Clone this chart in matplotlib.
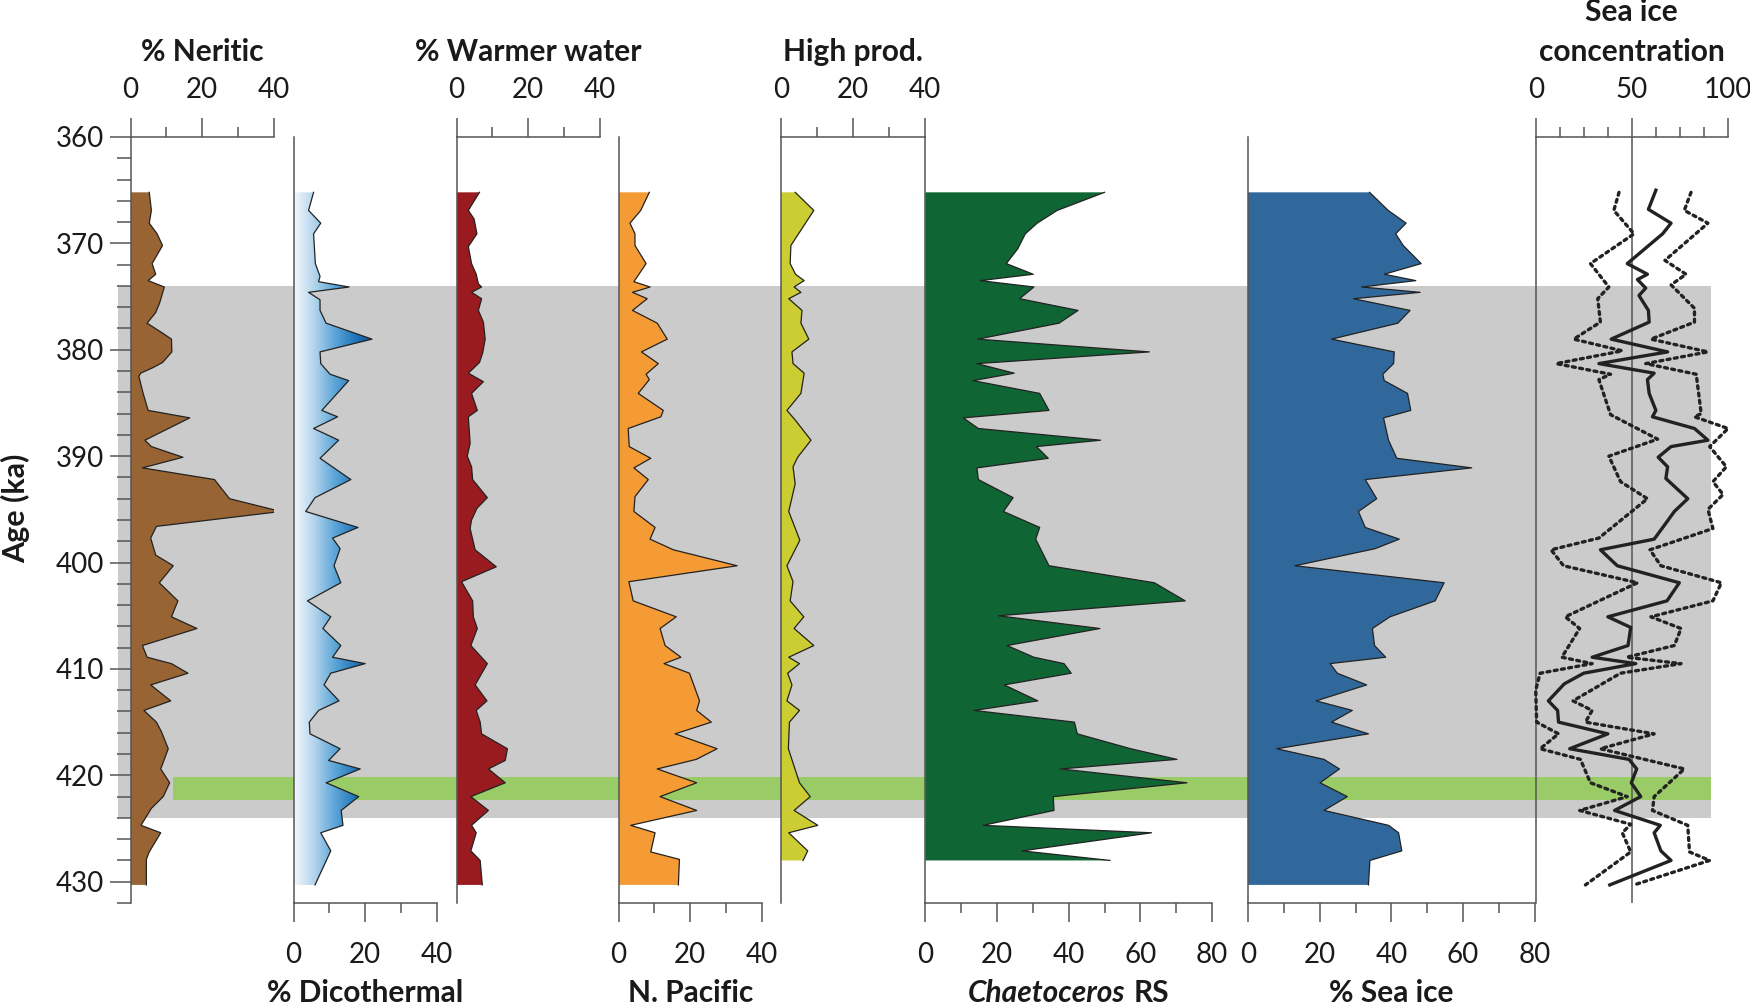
import matplotlib

matplotlib.use("Agg")
import matplotlib.pyplot as plt
import matplotlib.ticker as mtick
import numpy as np
from matplotlib.colors import LinearSegmentedColormap
from matplotlib.offsetbox import AnnotationBbox, HPacker, TextArea

# ---------------------------------------------------------------- data (ka, %)
NERITIC_AGE = [365.2, 366.9, 368.1, 369.1, 370.2, 371.9, 372.9, 373.5, 374.1, 375.6, 376.5, 377.5,
               378.3, 379.0, 380.2, 381.2, 381.7, 382.2, 382.5, 384.1, 385.7, 386.4, 388.5, 389.1,
               390.1, 391.1, 392.2, 394.0, 395.2, 396.6, 397.7, 399.3, 400.3, 401.9, 403.6, 405.1,
               406.2, 407.8, 408.9, 409.5, 410.4, 411.5, 413.0, 413.9, 415.0, 415.9, 417.5, 419.4,
               420.7, 422.0, 423.1, 424.7, 425.4, 427.2, 427.9, 430.3]
NERITIC = [5.2, 5.8, 5.2, 7.4, 8.9, 6.0, 7.0, 4.9, 9.4, 8.1, 7.0, 4.6,
           8.3, 11.4, 11.5, 8.9, 6.1, 2.8, 2.3, 3.5, 4.9, 16.5, 4.0, 5.8,
           14.6, 3.3, 23.4, 27.6, 41.9, 7.2, 5.6, 7.0, 11.9, 8.0, 13.2, 11.4,
           18.5, 3.3, 4.6, 11.4, 16.0, 5.6, 11.2, 3.7, 7.2, 8.6, 10.5, 8.4,
           10.9, 9.1, 5.8, 2.9, 8.4, 5.2, 4.4, 4.4]

DICO_AGE = [365.2, 366.9, 368.1, 369.1, 371.9, 373.1, 373.6, 374.1, 374.6, 375.3, 376.3, 377.5,
            379.0, 380.2, 381.3, 382.3, 382.9, 385.7, 386.3, 387.4, 388.5, 390.2, 392.2, 393.9,
            395.2, 396.7, 397.7, 398.7, 400.3, 401.9, 403.6, 405.1, 406.2, 407.8, 408.9, 409.5,
            410.4, 411.5, 413.0, 413.9, 415.0, 416.1, 417.5, 418.6, 419.4, 420.7, 422.0, 423.3,
            424.7, 425.4, 427.1, 430.3]
DICOTHERMAL = [5.6, 4.2, 7.6, 5.6, 6.1, 7.4, 7.0, 15.5, 4.2, 7.4, 7.4, 9.1,
               21.9, 7.4, 7.6, 10.2, 15.4, 7.9, 12.3, 5.6, 12.6, 7.4, 16.0, 6.0,
               3.4, 18.0, 10.9, 13.0, 11.3, 13.2, 3.9, 10.4, 8.2, 13.2, 10.9, 20.0,
               10.4, 8.5, 12.7, 7.0, 4.4, 4.6, 13.0, 9.8, 18.6, 9.1, 18.2, 13.3,
               13.8, 7.6, 10.4, 6.0]

WARM_AGE = [365.2, 366.9, 367.7, 369.1, 370.3, 371.9, 372.9, 373.8, 374.1, 374.6, 375.2, 376.3,
            377.4, 379.0, 380.3, 381.2, 382.2, 383.0, 384.1, 385.7, 386.3, 388.8, 390.0, 391.0,
            392.2, 393.9, 394.9, 396.0, 396.8, 398.8, 400.4, 401.8, 403.6, 405.1, 406.2, 407.8,
            409.5, 411.5, 413.0, 413.9, 415.0, 416.1, 417.5, 418.6, 419.4, 420.7, 422.0, 423.3,
            424.7, 425.4, 427.1, 428.0, 430.3]
WARMER = [6.4, 3.3, 4.9, 5.7, 3.3, 4.2, 5.5, 6.1, 7.0, 4.2, 7.0, 6.1,
          7.5, 8.0, 7.3, 6.4, 3.3, 7.5, 4.2, 5.8, 3.3, 3.8, 3.0, 4.2,
          4.5, 8.6, 5.7, 4.2, 3.8, 5.2, 11.1, 1.4, 4.5, 4.7, 5.8, 4.0,
          8.6, 5.2, 8.5, 5.5, 6.6, 7.0, 14.2, 13.6, 8.9, 13.6, 4.0, 8.9,
          4.2, 5.5, 4.0, 6.6, 7.2]

NPAC_AGE = [365.2, 366.9, 368.1, 369.1, 370.2, 371.9, 373.6, 374.1, 374.6, 375.2, 376.3, 377.5,
            379.0, 380.2, 381.3, 382.3, 382.8, 384.1, 385.7, 386.3, 387.4, 389.1, 390.2, 391.1,
            392.2, 393.8, 395.2, 396.7, 397.8, 398.8, 400.3, 401.8, 403.6, 405.1, 406.2, 407.8,
            408.9, 409.5, 410.4, 413.0, 413.9, 415.0, 416.1, 417.5, 418.5, 419.4, 420.7, 422.0,
            423.3, 424.7, 425.4, 427.2, 427.9, 430.3]
N_PACIFIC = [8.6, 6.2, 3.2, 4.6, 4.6, 7.7, 4.3, 8.8, 3.9, 8.0, 3.9, 10.8,
             13.6, 6.4, 11.1, 7.7, 8.6, 5.5, 12.5, 11.8, 2.7, 3.0, 9.0, 4.3,
             8.3, 4.6, 4.3, 10.2, 8.8, 15.3, 33.1, 2.9, 4.1, 16.1, 11.6, 13.0,
             17.4, 12.7, 19.8, 22.6, 21.8, 25.9, 15.8, 27.5, 21.7, 10.8, 21.8, 11.6,
             21.8, 3.4, 10.2, 9.0, 17.0, 16.7]

HIGH_AGE = [365.2, 366.9, 370.2, 371.9, 372.9, 373.5, 374.1, 374.6, 375.2, 376.3, 377.5, 379.0,
            380.2, 381.3, 382.2, 384.1, 385.7, 386.6, 388.5, 390.1, 391.0, 392.6, 395.2, 397.9,
            400.3, 401.8, 403.6, 405.1, 406.2, 407.8, 408.9, 409.5, 410.4, 411.5, 413.0, 413.9,
            415.0, 417.5, 420.7, 422.0, 423.3, 424.7, 425.4, 427.1, 428.0]
HIGH_PROD = [3.9, 9.1, 2.7, 2.5, 4.0, 6.4, 3.6, 5.5, 2.1, 5.8, 5.5, 7.7,
             3.0, 3.3, 6.4, 5.5, 1.6, 3.9, 8.3, 4.6, 3.3, 3.9, 2.1, 5.2,
             1.6, 3.3, 2.5, 6.3, 3.6, 9.1, 2.1, 5.1, 1.8, 3.0, 1.6, 5.1,
             2.3, 2.0, 5.1, 8.1, 3.6, 10.2, 2.1, 7.4, 6.1]

CHAET_AGE = [365.2, 366.9, 368.1, 369.1, 370.5, 371.9, 372.9, 373.5, 374.1, 375.2, 376.3, 377.5,
             379.0, 380.2, 381.3, 382.2, 382.9, 384.1, 385.7, 386.4, 387.4, 388.5, 389.1, 390.2,
             391.1, 392.2, 393.9, 395.2, 396.7, 397.8, 400.3, 401.9, 403.6, 405.0, 406.2, 407.8,
             408.9, 409.5, 410.4, 411.5, 413.0, 413.9, 415.0, 416.1, 417.5, 418.5, 419.4, 420.7,
             422.0, 423.3, 424.7, 425.4, 427.1, 428.0]
CHAETOCEROS = [50.0, 36.8, 31.2, 27.9, 25.8, 22.6, 30.1, 15.3, 30.3, 26.3, 42.6, 37.3,
               14.6, 62.5, 14.4, 24.8, 13.3, 31.9, 34.5, 10.6, 14.8, 48.9, 31.0, 34.3,
               14.4, 14.8, 24.5, 21.8, 31.9, 30.8, 34.5, 63.9, 72.5, 20.4, 48.7, 22.8,
               30.3, 38.7, 40.7, 22.0, 31.4, 13.6, 41.6, 42.4, 57.3, 70.2, 37.7, 73.0,
               35.7, 35.9, 16.1, 63.1, 27.0, 51.5]

ICE_AGE = [365.2, 366.9, 368.1, 369.1, 370.2, 371.9, 372.9, 373.5, 374.1, 374.6, 375.2, 376.3,
           377.5, 379.0, 380.2, 381.3, 382.3, 382.9, 384.1, 385.7, 386.4, 388.5, 390.2, 391.1,
           392.2, 394.0, 395.2, 396.7, 397.8, 398.7, 400.3, 401.9, 403.6, 405.1, 406.2, 407.8,
           408.9, 409.5, 410.4, 411.5, 413.0, 413.9, 415.0, 416.1, 417.5, 418.5, 419.4, 420.7,
           422.0, 423.3, 424.7, 425.4, 427.1, 428.0, 430.3]
SEA_ICE = [33.9, 39.1, 44.1, 41.2, 43.3, 48.3, 38.0, 46.8, 31.7, 48.0, 29.4, 45.2,
           41.8, 23.3, 40.8, 40.6, 37.6, 38.0, 44.5, 45.4, 37.8, 39.2, 41.5, 62.4,
           32.7, 35.9, 30.8, 32.7, 42.2, 35.4, 13.1, 54.7, 52.2, 39.6, 34.7, 35.3,
           38.4, 22.9, 24.9, 33.1, 19.0, 29.1, 23.3, 33.6, 8.0, 21.2, 25.5, 20.1,
           27.7, 21.2, 39.2, 42.0, 42.9, 34.0, 33.6]

SIC_AGE = [365.0, 366.8, 368.1, 369.1, 371.9, 372.9, 373.4, 374.2, 374.9, 376.3, 377.4, 379.0,
           380.2, 381.3, 382.2, 382.8, 384.1, 385.7, 386.3, 387.4, 388.5, 389.1, 390.1, 391.0,
           392.1, 394.0, 395.2, 396.3, 397.8, 398.8, 400.3, 401.9, 403.6, 405.1, 406.1, 407.8,
           408.9, 409.5, 410.4, 411.4, 413.0, 413.9, 415.0, 416.1, 417.5, 418.5, 419.4, 420.7,
           422.0, 423.3, 424.7, 425.4, 427.1, 428.0, 430.3]
SIC_MEAN = [62.6, 58.7, 70.5, 66.1, 47.7, 58.2, 53.0, 57.3, 53.8, 58.7, 59.1, 39.3,
            68.7, 32.9, 61.7, 58.2, 59.1, 62.6, 60.8, 82.7, 89.7, 70.5, 63.8, 68.7,
            67.8, 79.2, 72.2, 67.8, 61.7, 33.7, 42.5, 74.8, 68.4, 37.6, 49.5, 48.1,
            29.4, 52.1, 25.0, 14.9, 6.6, 11.4, 11.9, 37.6, 17.7, 48.6, 52.6, 49.8,
            54.7, 41.1, 64.9, 61.7, 65.2, 70.5, 38.6]

SIC_LOW_AGE = [365.2, 366.9, 369.1, 371.9, 374.1, 375.2, 377.4, 379.0, 380.1, 381.3, 382.3, 382.8,
               386.1, 388.4, 390.0, 392.4, 394.0, 397.7, 398.8, 400.3, 401.9, 405.1, 406.2, 408.9,
               409.5, 410.4, 412.0, 415.0, 416.1, 417.5, 418.5, 420.7, 422.0, 423.3, 424.6, 425.4,
               427.2, 430.3]
SIC_LOW = [43.4, 40.7, 51.2, 28.5, 38.1, 32.3, 33.7, 19.8, 45.1, 10.7, 39.0, 32.9,
           39.0, 63.5, 38.1, 44.2, 58.2, 32.9, 8.0, 14.5, 53.0, 15.4, 22.9, 13.6,
           29.4, 2.3, 0.0, 0.5, 11.9, 2.3, 23.3, 28.5, 47.7, 22.9, 49.5, 45.1,
           49.5, 25.9]

SIC_HIGH_AGE = [365.2, 366.9, 368.1, 371.6, 372.9, 373.9, 376.1, 377.4, 379.0, 380.2, 381.3, 382.3,
                386.0, 386.3, 387.4, 389.1, 391.0, 392.4, 393.6, 395.0, 396.8, 398.8, 400.3, 401.9,
                403.6, 405.1, 406.2, 407.8, 408.9, 409.5, 410.4, 413.0, 413.9, 415.0, 416.1, 417.5,
                419.4, 422.0, 423.3, 424.7, 427.2, 428.0, 430.3]
SIC_HIGH = [80.9, 77.4, 89.7, 67.3, 78.3, 70.5, 82.7, 82.7, 60.0, 89.7, 57.3, 83.6,
            86.2, 82.7, 100.2, 90.6, 99.3, 92.3, 97.6, 89.7, 92.3, 59.5, 65.2, 96.7,
            92.3, 60.0, 75.7, 72.2, 47.4, 75.7, 44.2, 19.4, 29.4, 25.9, 61.7, 33.7,
            77.4, 61.7, 60.8, 79.2, 80.1, 90.6, 51.2]

GLACIAL_BAND = (374.0, 424.0)
EVENT_BAND = (420.2, 422.3)
AGE_TOP, AGE_BOTTOM = 360, 432

# ---------------------------------------------------------------- style
W, H = 1750, 1007
Y_TOP_PX, Y_BOTTOM_PX = 137, 903
PX_PER_UNIT = 3.585

INK = "#1a1a1a"
SPINE = "#555555"
BROWN = "#986434"
DARKRED = "#991b1f"
ORANGE = "#f59b36"
OLIVE = "#cccc33"
DGREEN = "#106535"
SEA_BLUE = "#31689c"
GRAY_BAND = "#cbcbcb"
GREEN_BAND = "#99cc66"
FAMILY = ["Lato", "DejaVu Sans"]
TITLE_SIZE = 21.5

plt.rcParams.update({
    "font.family": FAMILY,
    "font.size": 20,
    "text.color": INK,
    "xtick.color": INK,
    "ytick.color": INK,
    "axes.edgecolor": SPINE,
    "axes.linewidth": 1.1,
})


def add_panel(fig, x0_px, xmax, side, width_px=None):
    if width_px is None:
        width_px = xmax * PX_PER_UNIT
    ax = fig.add_axes([x0_px / W, 1 - Y_BOTTOM_PX / H, width_px / W, (Y_BOTTOM_PX - Y_TOP_PX) / H])
    ax.set_facecolor("none")
    ax.set_xlim(0, xmax)
    ax.set_ylim(AGE_BOTTOM, AGE_TOP)
    ax.spines["right"].set_visible(False)
    ax.spines["top"].set_visible(side == "top")
    ax.spines["bottom"].set_visible(side == "bottom")
    ax.set_yticks([])
    if side == "top":
        ax.tick_params(axis="x", which="both", top=True, bottom=False, labeltop=True, labelbottom=False)
    else:
        ax.tick_params(axis="x", which="both", top=False, bottom=True, labeltop=False, labelbottom=True)
    ax.tick_params(axis="x", which="major", direction="out", length=14, width=1.1, color=SPINE,
                   pad=10.5 if side == "top" else 14, labelsize=20)
    ax.tick_params(axis="x", which="minor", direction="out", length=7.5, width=1.1, color=SPINE)
    return ax


def set_title(ax, text, side):
    y = 1.111 if side == "top" else -0.118
    ax.text(0.5, y, text, transform=ax.transAxes, ha="center", va="center",
            fontsize=TITLE_SIZE, fontweight="bold")


def area(ax, age, values, color):
    ax.fill_betweenx(age, 0, values, facecolor=color, edgecolor="none", zorder=2)
    ax.plot(values, age, color="#222222", linewidth=0.9, zorder=3)


def main():
    fig = plt.figure(figsize=(W / 100, H / 100), dpi=100)

    # shaded intervals behind all panels
    gray_left, gray_right, green_left = 118, 1711, 173
    bg = fig.add_axes([gray_left / W, 1 - Y_BOTTOM_PX / H, (gray_right - gray_left) / W,
                       (Y_BOTTOM_PX - Y_TOP_PX) / H])
    bg.set_xlim(0, 1)
    bg.set_ylim(AGE_BOTTOM, AGE_TOP)
    bg.axis("off")
    bg.axhspan(*GLACIAL_BAND, color=GRAY_BAND, linewidth=0)
    bg.axhspan(*EVENT_BAND, xmin=(green_left - gray_left) / (gray_right - gray_left),
               color=GREEN_BAND, linewidth=0)

    # % Neritic (carries the age axis)
    ax = add_panel(fig, 130.6, 40, "top")
    area(ax, NERITIC_AGE, NERITIC, BROWN)
    ax.xaxis.set_major_locator(mtick.MultipleLocator(20))
    ax.xaxis.set_minor_locator(mtick.MultipleLocator(10))
    ax.set_yticks(np.arange(360, 431, 10))
    ax.set_yticks(np.arange(360, 433, 2), minor=True)
    ax.tick_params(axis="y", which="major", direction="out", length=15, width=1.1, color=SPINE,
                   labelsize=20, pad=4)
    ax.tick_params(axis="y", which="minor", direction="out", length=10, width=1.1, color=SPINE)
    set_title(ax, "% Neritic", "top")
    fig.text(16 / W, 1 - 508 / H, "Age (ka)", rotation=90, ha="center", va="center",
             fontsize=22, fontweight="bold")

    # % Dicothermal with horizontal blue gradient
    ax = add_panel(fig, 293.5, 40, "bottom")
    ax.xaxis.set_major_locator(mtick.MultipleLocator(20))
    ax.xaxis.set_minor_locator(mtick.MultipleLocator(10))
    poly = ax.fill_betweenx(DICO_AGE, 0, DICOTHERMAL, facecolor="none", edgecolor="none")
    cmap = LinearSegmentedColormap.from_list(
        "dico", ["#f3f8fd", "#b3d4ec", "#5ea6d8", "#2377bb", "#084b94"])
    img = ax.imshow(np.linspace(0, 1, 256)[None, :], extent=(0, 22.5, AGE_BOTTOM, AGE_TOP),
                    aspect="auto", cmap=cmap, zorder=2, interpolation="bilinear")
    img.set_clip_path(poly.get_paths()[0], transform=ax.transData)
    ax.plot(DICOTHERMAL, DICO_AGE, color="#222222", linewidth=0.9, zorder=3)
    ax.set_xlim(0, 40)
    ax.set_ylim(AGE_BOTTOM, AGE_TOP)
    set_title(ax, "% Dicothermal", "bottom")

    # % Warmer water
    ax = add_panel(fig, 456.5, 40, "top")
    area(ax, WARM_AGE, WARMER, DARKRED)
    ax.xaxis.set_major_locator(mtick.MultipleLocator(20))
    ax.xaxis.set_minor_locator(mtick.MultipleLocator(10))
    set_title(ax, "% Warmer water", "top")

    # N. Pacific
    ax = add_panel(fig, 618.5, 40, "bottom")
    area(ax, NPAC_AGE, N_PACIFIC, ORANGE)
    ax.xaxis.set_major_locator(mtick.MultipleLocator(20))
    ax.xaxis.set_minor_locator(mtick.MultipleLocator(10))
    set_title(ax, "N. Pacific", "bottom")

    # High prod.
    ax = add_panel(fig, 781.2, 40, "top")
    area(ax, HIGH_AGE, HIGH_PROD, OLIVE)
    ax.xaxis.set_major_locator(mtick.MultipleLocator(20))
    ax.xaxis.set_minor_locator(mtick.MultipleLocator(10))
    set_title(ax, "High prod.", "top")

    # Chaetoceros RS
    ax = add_panel(fig, 925.3, 80, "bottom")
    area(ax, CHAET_AGE, CHAETOCEROS, DGREEN)
    ax.xaxis.set_major_locator(mtick.MultipleLocator(20))
    ax.xaxis.set_minor_locator(mtick.MultipleLocator(10))
    label = HPacker(children=[
        TextArea("Chaetoceros", textprops=dict(fontsize=TITLE_SIZE, fontweight="bold",
                                               fontstyle="italic", family=FAMILY)),
        TextArea("RS", textprops=dict(fontsize=TITLE_SIZE, fontweight="bold", family=FAMILY)),
    ], pad=0, sep=6, align="baseline")
    ax.add_artist(AnnotationBbox(label, (0.5, -0.118), xycoords="axes fraction",
                                 box_alignment=(0.5, 0.5), frameon=False, pad=0))

    # % Sea ice
    ax = add_panel(fig, 1248.0, 80, "bottom")
    area(ax, ICE_AGE, SEA_ICE, SEA_BLUE)
    ax.xaxis.set_major_locator(mtick.MultipleLocator(20))
    ax.xaxis.set_minor_locator(mtick.MultipleLocator(10))
    set_title(ax, "% Sea ice", "bottom")

    # Sea ice concentration
    ax = add_panel(fig, 1535.7, 100, "top", width_px=192)
    ax.xaxis.set_major_locator(mtick.MultipleLocator(50))
    ax.xaxis.set_minor_locator(mtick.MultipleLocator(12.5))
    ax.axvline(50, color=SPINE, linewidth=1.1, zorder=1)
    ax.plot(SIC_LOW, SIC_LOW_AGE, color="#222222", linewidth=2.4, linestyle=(0, (0.9, 1.3)),
            dash_capstyle="round", clip_on=False, zorder=3)
    ax.plot(SIC_HIGH, SIC_HIGH_AGE, color="#222222", linewidth=2.4, linestyle=(0, (0.9, 1.3)),
            dash_capstyle="round", clip_on=False, zorder=3)
    ax.plot(SIC_MEAN, SIC_AGE, color="#222222", linewidth=2.4, clip_on=False, zorder=4)
    ax.text(0.5, 1.111, "concentration", transform=ax.transAxes, ha="center", va="center",
            fontsize=TITLE_SIZE, fontweight="bold")
    ax.text(0.5, 1.163, "Sea ice", transform=ax.transAxes, ha="center", va="center",
            fontsize=TITLE_SIZE, fontweight="bold")

    fig.savefig("out.png", dpi=100, facecolor="white")
    plt.close(fig)


if __name__ == "__main__":
    main()
